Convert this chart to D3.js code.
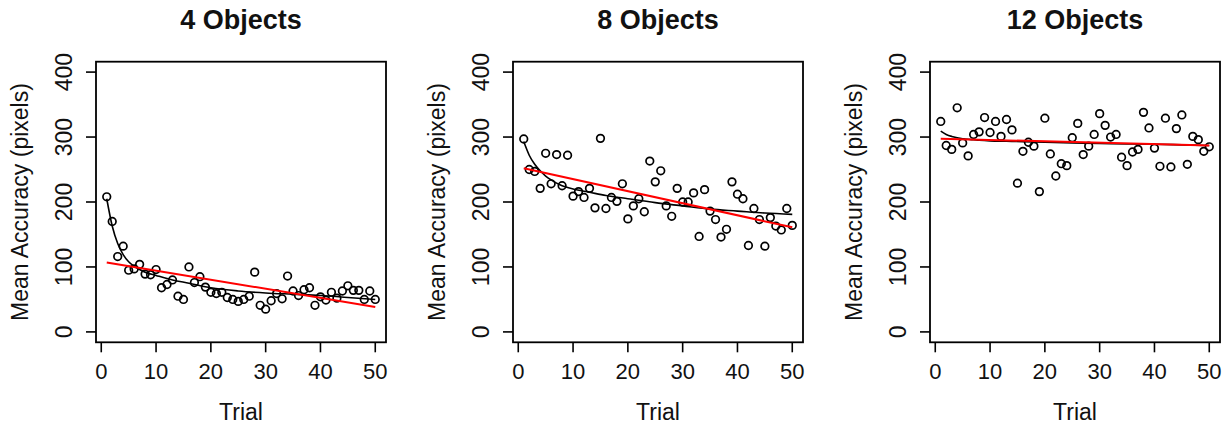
<!DOCTYPE html>
<html>
<head>
<meta charset="utf-8">
<script src="https://cdn.jsdelivr.net/npm/d3@7"></script>
<style>
  html, body { margin: 0; padding: 0; background: #fff; }
  svg { display: block; }
  text { font-family: "Liberation Sans", Arial, sans-serif; fill: #111; }
</style>
</head>
<body>
<svg id="chart" width="1225" height="426"></svg>
<script>
// ---------------- data ----------------
const panelTitles = ["4 Objects", "8 Objects", "12 Objects"];
const trials = d3.range(1, 51);
const xTicks = [0, 10, 20, 30, 40, 50];
const yTicks = [0, 100, 200, 300, 400];
const xLabel = "Trial";
const yLabel = "Mean Accuracy (pixels)";

const acc4 = [208, 170, 116, 132, 95, 97, 104, 89, 88, 96,
              68, 73, 80, 55, 50, 100, 76, 85, 69, 61,
              59, 61, 53, 50, 47, 50, 55, 92, 41, 35,
              48, 59, 51, 86, 63, 56, 65, 68, 41, 54,
              49, 61, 52, 63, 71, 64, 64, 50, 63, 50];
const acc8 = [297, 250, 247, 221, 275, 228, 273, 225, 272, 209,
              216, 207, 221, 191, 298, 190, 207, 201, 228, 174,
              194, 205, 185, 263, 231, 248, 194, 178, 221, 200,
              200, 214, 147, 219, 186, 173, 146, 158, 231, 212,
              205, 133, 190, 173, 132, 176, 163, 157, 190, 164];
const acc12 = [324, 287, 281, 345, 291, 271, 304, 308, 330, 307,
               324, 301, 327, 311, 229, 278, 292, 286, 216, 329,
               274, 240, 259, 256, 299, 321, 273, 286, 304, 336,
               318, 300, 304, 269, 256, 277, 281, 338, 314, 283,
               255, 329, 254, 313, 334, 258, 301, 296, 278, 285];

// fitted curves (black), read at selected trials
const fitTrials = [1, 2, 3, 4, 5, 6, 7, 8, 10, 13, 16, 20, 25, 30, 35, 40, 45, 50];
const fit4  = [205, 163, 136, 119, 108, 101, 96, 92, 87, 80, 75, 68, 63, 60, 58, 56, 53, 50];
const fit8  = [293, 272, 258, 248, 240, 234, 229, 225, 220, 215, 210, 205, 199, 194, 189, 186, 183, 181];
const fit12 = [309, 304, 301, 299, 297.5, 296.5, 295.8, 295, 294, 293.5, 293, 292, 291, 290, 289.5, 289, 288, 287];

// linear fits (red)
const linTrials = [1, 50];
const lin4  = [107, 38.5];
const lin8  = [252, 161];
const lin12 = [297.5, 287];

const panels = [
  { title: panelTitles[0], values: acc4,  fit: fit4,  lin: lin4 },
  { title: panelTitles[1], values: acc8,  fit: fit8,  lin: lin8 },
  { title: panelTitles[2], values: acc12, fit: fit12, lin: lin12 }
];

// ---------------- layout ----------------
const svg = d3.select("#chart");
const boxLefts = [96, 513, 930];
const boxW = 290, boxTop = 61.7, boxBottom = 342.3;

panels.forEach((p, i) => {
  const L = boxLefts[i], R = L + boxW;
  const x = d3.scaleLinear().domain([-0.96, 51.96]).range([L, R]);
  const y = d3.scaleLinear().domain([-16, 416]).range([boxBottom, boxTop]);
  const g = svg.append("g");

  // title
  g.append("text")
    .attr("x", (L + R) / 2).attr("y", 29)
    .attr("text-anchor", "middle")
    .attr("font-size", 27).attr("font-weight", "bold")
    .text(p.title);

  // box
  g.append("rect")
    .attr("x", L).attr("y", boxTop)
    .attr("width", boxW).attr("height", boxBottom - boxTop)
    .attr("fill", "none").attr("stroke", "#000").attr("stroke-width", 1.8);

  // x ticks
  g.selectAll(".xt").data(xTicks).enter().append("line")
    .attr("x1", d => x(d)).attr("x2", d => x(d))
    .attr("y1", boxBottom).attr("y2", boxBottom + 10)
    .attr("stroke", "#000").attr("stroke-width", 1.6);
  g.selectAll(".xl").data(xTicks).enter().append("text")
    .attr("x", d => x(d)).attr("y", 379)
    .attr("text-anchor", "middle").attr("font-size", 22)
    .text(d => d);

  // y ticks
  g.selectAll(".yt").data(yTicks).enter().append("line")
    .attr("x1", L).attr("x2", L - 10)
    .attr("y1", d => y(d)).attr("y2", d => y(d))
    .attr("stroke", "#000").attr("stroke-width", 1.6);
  g.selectAll(".yl").data(yTicks).enter().append("text")
    .attr("transform", d => `translate(${L - 24},${y(d)}) rotate(-90)`)
    .attr("text-anchor", "middle").attr("font-size", 23)
    .text(d => d);

  // axis labels
  g.append("text")
    .attr("x", (L + R) / 2).attr("y", 420)
    .attr("text-anchor", "middle").attr("font-size", 23)
    .text(xLabel);
  g.append("text")
    .attr("transform", `translate(${L - 68},${(boxTop + boxBottom) / 2}) rotate(-90)`)
    .attr("text-anchor", "middle").attr("font-size", 23)
    .text(yLabel);

  // points
  g.selectAll(".pt").data(p.values).enter().append("circle")
    .attr("cx", (d, k) => x(trials[k]))
    .attr("cy", d => y(d))
    .attr("r", 3.8)
    .attr("fill", "none").attr("stroke", "#000").attr("stroke-width", 1.7);

  // black fitted curve
  const fitLine = d3.line()
    .x((d, k) => x(fitTrials[k])).y(d => y(d))
    .curve(d3.curveMonotoneX);
  g.append("path").datum(p.fit)
    .attr("d", fitLine)
    .attr("fill", "none").attr("stroke", "#000").attr("stroke-width", 1.6);

  // red linear fit
  const linLine = d3.line().x((d, k) => x(linTrials[k])).y(d => y(d));
  g.append("path").datum(p.lin)
    .attr("d", linLine)
    .attr("fill", "none").attr("stroke", "#ff0000").attr("stroke-width", 2);
});
</script>
</body>
</html>
